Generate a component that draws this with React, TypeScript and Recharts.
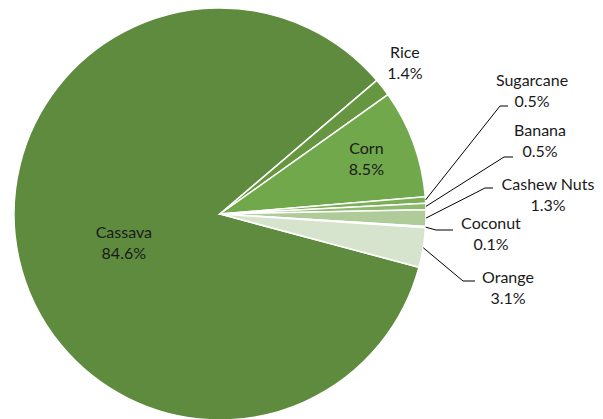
import React from "react";
import { PieChart, Pie, Cell } from "recharts";

const crops = ["Cassava", "Rice", "Corn", "Sugarcane", "Banana", "Cashew Nuts", "Coconut", "Orange"];
const shares = [84.6, 1.4, 8.5, 0.5, 0.5, 1.3, 0.1, 3.1];
const COLORS = ["#5E8B3E", "#66963F", "#70A84B", "#7BAF57", "#8EBA6F", "#AFCB99", "#C4D8B6", "#D7E4CD"];

const data = crops.map((name, i) => ({ name, value: shares[i] }));

// labels placed with a leader line: elbow (ex, ey), horizontal tail w, text centre (lx, ly), all relative to pie centre
const OUTER_LABELS: Record<string, { ex: number; ey: number; w: number; lx: number; ly: number }> = {
  Sugarcane: { ex: 280, ey: -108, w: 8, lx: 312, ly: -124 },
  Banana: { ex: 284, ey: -57, w: 9, lx: 320, ly: -74 },
  "Cashew Nuts": { ex: 265, ey: -26, w: 8, lx: 328, ly: -20 },
  Coconut: { ex: 216, ey: 16, w: 17, lx: 271, ly: 19.5 },
  Orange: { ex: 243, ey: 67, w: 12, lx: 288, ly: 73 },
};

// labels placed polar: angle (deg) and fraction of the radius
const POLAR_LABELS: Record<string, { angle: number; f: number }> = {
  Cassava: { angle: -163.5, f: 0.487 },
  Rice: { angle: 39.3, f: 1.16 },
  Corn: { angle: 20.75, f: 0.76 },
};

const RAD = Math.PI / 180;
const FONT = "Lato, 'Open Sans', sans-serif";

function renderLabel(props: any) {
  const { cx, cy, midAngle, outerRadius, name, value } = props;
  const text = `${value.toFixed(1)}%`;
  let x: number;
  let y: number;
  let line: React.ReactNode = null;
  const o = OUTER_LABELS[name];
  if (o) {
    const sx = cx + outerRadius * Math.cos(-midAngle * RAD);
    const sy = cy + outerRadius * Math.sin(-midAngle * RAD);
    const ex = cx + o.ex;
    const ey = cy + o.ey;
    line = (
      <polyline
        points={`${sx},${sy} ${ex},${ey} ${ex + o.w},${ey}`}
        fill="none"
        stroke="#000"
        strokeWidth={1}
      />
    );
    x = cx + o.lx;
    y = cy + o.ly;
  } else {
    const p = POLAR_LABELS[name];
    x = cx + outerRadius * p.f * Math.cos(-p.angle * RAD);
    y = cy + outerRadius * p.f * Math.sin(-p.angle * RAD);
  }
  return (
    <g key={`lbl-${name}`}>
      {line}
      <text x={x} y={y} textAnchor="middle" fill="#1a1a1a" fontSize={16} fontFamily={FONT}>
        <tspan x={x} dy={-4.5}>{name}</tspan>
        <tspan x={x} dy={21}>{text}</tspan>
      </text>
    </g>
  );
}

export default function App() {
  return (
    <div style={{ position: "absolute", left: 0, top: 0, width: 603, height: 419, background: "#fff" }}>
      <PieChart width={603} height={419} margin={{ top: 0, right: 0, bottom: 0, left: 0 }}>
        <Pie
          data={data}
          dataKey="value"
          nameKey="name"
          cx={220}
          cy={214}
          outerRadius={206}
          startAngle={-15}
          endAngle={-375}
          stroke="#fff"
          strokeWidth={1.5}
          label={renderLabel}
          labelLine={false}
          isAnimationActive={false}
        >
          {data.map((entry, index) => (
            <Cell key={`cell-${index}`} fill={COLORS[index % COLORS.length]} />
          ))}
        </Pie>
      </PieChart>
    </div>
  );
}
